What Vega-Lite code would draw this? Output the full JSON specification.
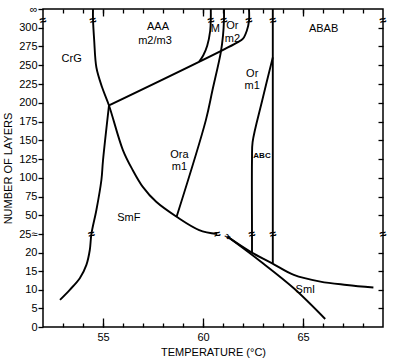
{
  "$schema": "https://vega.github.io/schema/vega-lite/v6.json",
  "width": 340,
  "height": 318,
  "autosize": "none",
  "padding": {"left": 43, "top": 9, "right": 12, "bottom": 34},
  "background": "white",
  "config": {
    "view": {"stroke": "black", "strokeWidth": 1.5},
    "font": "Liberation Sans",
    "axis": {"grid": false, "domain": false, "tickColor": "black", "labelColor": "black", "titleColor": "black", "labelFont": "Liberation Sans", "titleFont": "Liberation Sans", "labelFontSize": 11, "titleFontSize": 11, "titleFontWeight": "normal", "tickWidth": 1.3}
  },
  "resolve": {"axis": {"x": "independent", "y": "independent"}},
  "datasets": {
    "curves": [
      {"c": "A", "i": 0, "T": 52.85, "N": 7.3},
      {"c": "A", "i": 1, "T": 53.34, "N": 10.0},
      {"c": "A", "i": 2, "T": 53.84, "N": 13.1},
      {"c": "A", "i": 3, "T": 54.17, "N": 16.7},
      {"c": "A", "i": 4, "T": 54.34, "N": 20.7},
      {"c": "A", "i": 5, "T": 54.42, "N": 25},
      {"c": "A", "i": 6, "T": 54.67, "N": 57},
      {"c": "A", "i": 7, "T": 54.92, "N": 97},
      {"c": "A", "i": 8, "T": 55.0, "N": 123},
      {"c": "A", "i": 9, "T": 55.30, "N": 196.4},
      {"c": "B", "i": 0, "T": 54.50, "N": 325},
      {"c": "B", "i": 1, "T": 54.50, "N": 311.6},
      {"c": "B", "i": 2, "T": 54.56, "N": 283},
      {"c": "B", "i": 3, "T": 54.67, "N": 247},
      {"c": "B", "i": 4, "T": 54.95, "N": 221},
      {"c": "B", "i": 5, "T": 55.30, "N": 196.4},
      {"c": "B", "i": 6, "T": 56.0, "N": 136.6},
      {"c": "B", "i": 7, "T": 56.49, "N": 110},
      {"c": "B", "i": 8, "T": 56.99, "N": 87.8},
      {"c": "B", "i": 9, "T": 57.66, "N": 67.9},
      {"c": "B", "i": 10, "T": 58.68, "N": 48},
      {"c": "B", "i": 11, "T": 59.81, "N": 30.3},
      {"c": "B", "i": 12, "T": 60.71, "N": 25},
      {"c": "C", "i": 0, "T": 55.30, "N": 196.4},
      {"c": "C", "i": 1, "T": 61.70, "N": 280.1},
      {"c": "C", "i": 2, "T": 62.0, "N": 285.4},
      {"c": "C", "i": 3, "T": 62.19, "N": 296},
      {"c": "C", "i": 4, "T": 62.30, "N": 309.3},
      {"c": "C", "i": 5, "T": 62.30, "N": 325},
      {"c": "D", "i": 0, "T": 59.81, "N": 255},
      {"c": "D", "i": 1, "T": 60.01, "N": 263},
      {"c": "D", "i": 2, "T": 60.21, "N": 276},
      {"c": "D", "i": 3, "T": 60.36, "N": 296},
      {"c": "D", "i": 4, "T": 60.39, "N": 312},
      {"c": "D", "i": 5, "T": 60.39, "N": 325},
      {"c": "E", "i": 0, "T": 58.68, "N": 48},
      {"c": "E", "i": 1, "T": 60.14, "N": 176.5},
      {"c": "E", "i": 2, "T": 60.47, "N": 216.3},
      {"c": "E", "i": 3, "T": 60.89, "N": 267.2},
      {"c": "E", "i": 4, "T": 61.0, "N": 289.4},
      {"c": "E", "i": 5, "T": 61.05, "N": 311.6},
      {"c": "E", "i": 6, "T": 61.05, "N": 325},
      {"c": "F", "i": 0, "T": 63.49, "N": 260.5},
      {"c": "F", "i": 1, "T": 62.96, "N": 203},
      {"c": "F", "i": 2, "T": 62.48, "N": 147.6},
      {"c": "F", "i": 3, "T": 62.45, "N": 125},
      {"c": "F", "i": 4, "T": 62.45, "N": 25},
      {"c": "F", "i": 5, "T": 62.45, "N": 20.0},
      {"c": "G", "i": 0, "T": 63.49, "N": 325},
      {"c": "G", "i": 1, "T": 63.49, "N": 150},
      {"c": "G", "i": 2, "T": 63.49, "N": 25},
      {"c": "G", "i": 3, "T": 63.49, "N": 17.1},
      {"c": "H", "i": 0, "T": 61.22, "N": 24.3},
      {"c": "H", "i": 1, "T": 62.38, "N": 20.2},
      {"c": "H", "i": 2, "T": 63.46, "N": 17.1},
      {"c": "H", "i": 3, "T": 64.54, "N": 14.0},
      {"c": "H", "i": 4, "T": 65.87, "N": 12.2},
      {"c": "H", "i": 5, "T": 67.19, "N": 11.3},
      {"c": "H", "i": 6, "T": 68.52, "N": 10.6},
      {"c": "I", "i": 0, "T": 61.22, "N": 24.3},
      {"c": "I", "i": 1, "T": 62.88, "N": 17.6},
      {"c": "I", "i": 2, "T": 64.54, "N": 10.4},
      {"c": "I", "i": 3, "T": 66.11, "N": 2.15}
    ],
    "labels": [
      {"t": "CrG", "T": 53.43, "N": 258},
      {"t": "AAA", "T": 57.75, "N": 301},
      {"t": "m2/m3", "T": 57.6, "N": 283},
      {"t": "M", "T": 60.62, "N": 298},
      {"t": "Or", "T": 61.47, "N": 302},
      {"t": "m2", "T": 61.47, "N": 285},
      {"t": "Or", "T": 62.46, "N": 239},
      {"t": "m1", "T": 62.46, "N": 222},
      {"t": "ABAB", "T": 66.03, "N": 298},
      {"t": "Ora", "T": 58.82, "N": 131},
      {"t": "m1", "T": 58.82, "N": 114},
      {"t": "SmF", "T": 56.29, "N": 46},
      {"t": "SmI", "T": 65.12, "N": 10}
    ],
    "small": [
      {"t": "ABC", "T": 62.95, "N": 128.6}
    ],
    "breaks": [
      {"T": 52, "N": 310},
      {"T": 54.5, "N": 310},
      {"T": 60.39, "N": 310},
      {"T": 61.05, "N": 310},
      {"T": 62.3, "N": 310},
      {"T": 63.49, "N": 310},
      {"T": 69, "N": 310},
      {"T": 54.42, "N": 25},
      {"T": 60.71, "N": 25},
      {"T": 62.45, "N": 25},
      {"T": 63.49, "N": 25},
      {"T": 69, "N": 25}
    ],
    "start": [
      {"T": 61.22, "N": 24.3}
    ]
  },
  "layer": [
    {
      "data": {"name": "curves"},
      "mark": {"type": "line", "interpolate": "catmull-rom", "color": "black", "strokeWidth": 1.9},
      "encoding": {
        "x": {"field": "T", "type": "quantitative", "scale": {"domain": [52, 69], "nice": false, "zero": false},
              "axis": {"orient": "bottom", "values": [55, 60, 65], "ticks": false, "labelPadding": 4, "title": "TEMPERATURE (°C)", "titlePadding": 4}},
        "y": {"field": "N", "type": "quantitative", "scale": {"domain": [0, 25, 325], "range": [318, 225, 0], "nice": false, "zero": false},
              "axis": {"orient": "left", "values": [0, 5, 10, 15, 20, 25, 50, 75, 100, 125, 150, 175, 200, 225, 250, 275, 300, 325], "tickSize": 5, "labelPadding": 1,
                       "labelExpr": "datum.value == 25 ? '25≈' : (datum.value == 325 ? '∞' : datum.label)", "title": "NUMBER OF LAYERS", "titlePadding": 5}},
        "detail": {"field": "c"},
        "order": {"field": "i", "type": "quantitative"}
      }
    },
    {
      "data": {"name": "labels"},
      "mark": {"type": "text", "fontSize": 11, "color": "black", "font": "Liberation Sans"},
      "encoding": {
        "x": {"field": "T", "type": "quantitative", "scale": {"domain": [52, 69], "nice": false, "zero": false},
              "axis": {"orient": "bottom", "values": [53, 54, 55, 56, 57, 58, 59, 60, 61, 62, 63, 64, 65, 66, 67, 68], "tickSize": 4, "offset": -4, "labels": false, "title": null}},
        "y": {"field": "N", "type": "quantitative", "scale": {"domain": [0, 25, 325], "range": [318, 225, 0], "nice": false, "zero": false},
              "axis": {"orient": "right", "values": [5, 10, 15, 20, 50, 75, 100, 125, 150, 175, 200, 225, 250, 275, 300], "tickSize": 5, "offset": -5, "labels": false, "title": null}},
        "text": {"field": "t"}
      }
    },
    {
      "data": {"name": "breaks"},
      "mark": {"type": "text", "text": "≈", "fontSize": 12, "fontWeight": "bold", "color": "black", "angle": -15},
      "encoding": {
        "x": {"field": "T", "type": "quantitative", "scale": {"domain": [52, 69], "nice": false, "zero": false},
              "axis": {"orient": "bottom", "values": [55, 60, 65], "tickSize": 9, "offset": -9, "labels": false, "title": null}},
        "y": {"field": "N", "type": "quantitative", "scale": {"domain": [0, 25, 325], "range": [318, 225, 0], "nice": false, "zero": false}, "axis": null}
      }
    },
    {
      "data": {"name": "small"},
      "mark": {"type": "text", "fontSize": 8, "fontWeight": "bold", "color": "black", "font": "Liberation Sans"},
      "encoding": {
        "x": {"field": "T", "type": "quantitative", "scale": {"domain": [52, 69], "nice": false, "zero": false},
              "axis": {"orient": "top", "values": [53, 54, 55, 56, 57, 58, 59, 60, 61, 62, 63, 64, 65, 66, 67, 68], "tickSize": 4, "offset": -4, "labels": false, "title": null}},
        "y": {"field": "N", "type": "quantitative", "scale": {"domain": [0, 25, 325], "range": [318, 225, 0], "nice": false, "zero": false}, "axis": null},
        "text": {"field": "t"}
      }
    },
    {
      "data": {"name": "start"},
      "mark": {"type": "text", "text": "≈", "fontSize": 10, "fontWeight": "bold", "color": "black", "angle": 40},
      "encoding": {
        "x": {"field": "T", "type": "quantitative", "scale": {"domain": [52, 69], "nice": false, "zero": false},
              "axis": {"orient": "top", "values": [55, 60, 65], "tickSize": 7, "offset": -7, "labels": false, "title": null}},
        "y": {"field": "N", "type": "quantitative", "scale": {"domain": [0, 25, 325], "range": [318, 225, 0], "nice": false, "zero": false}, "axis": null}
      }
    }
  ]
}
